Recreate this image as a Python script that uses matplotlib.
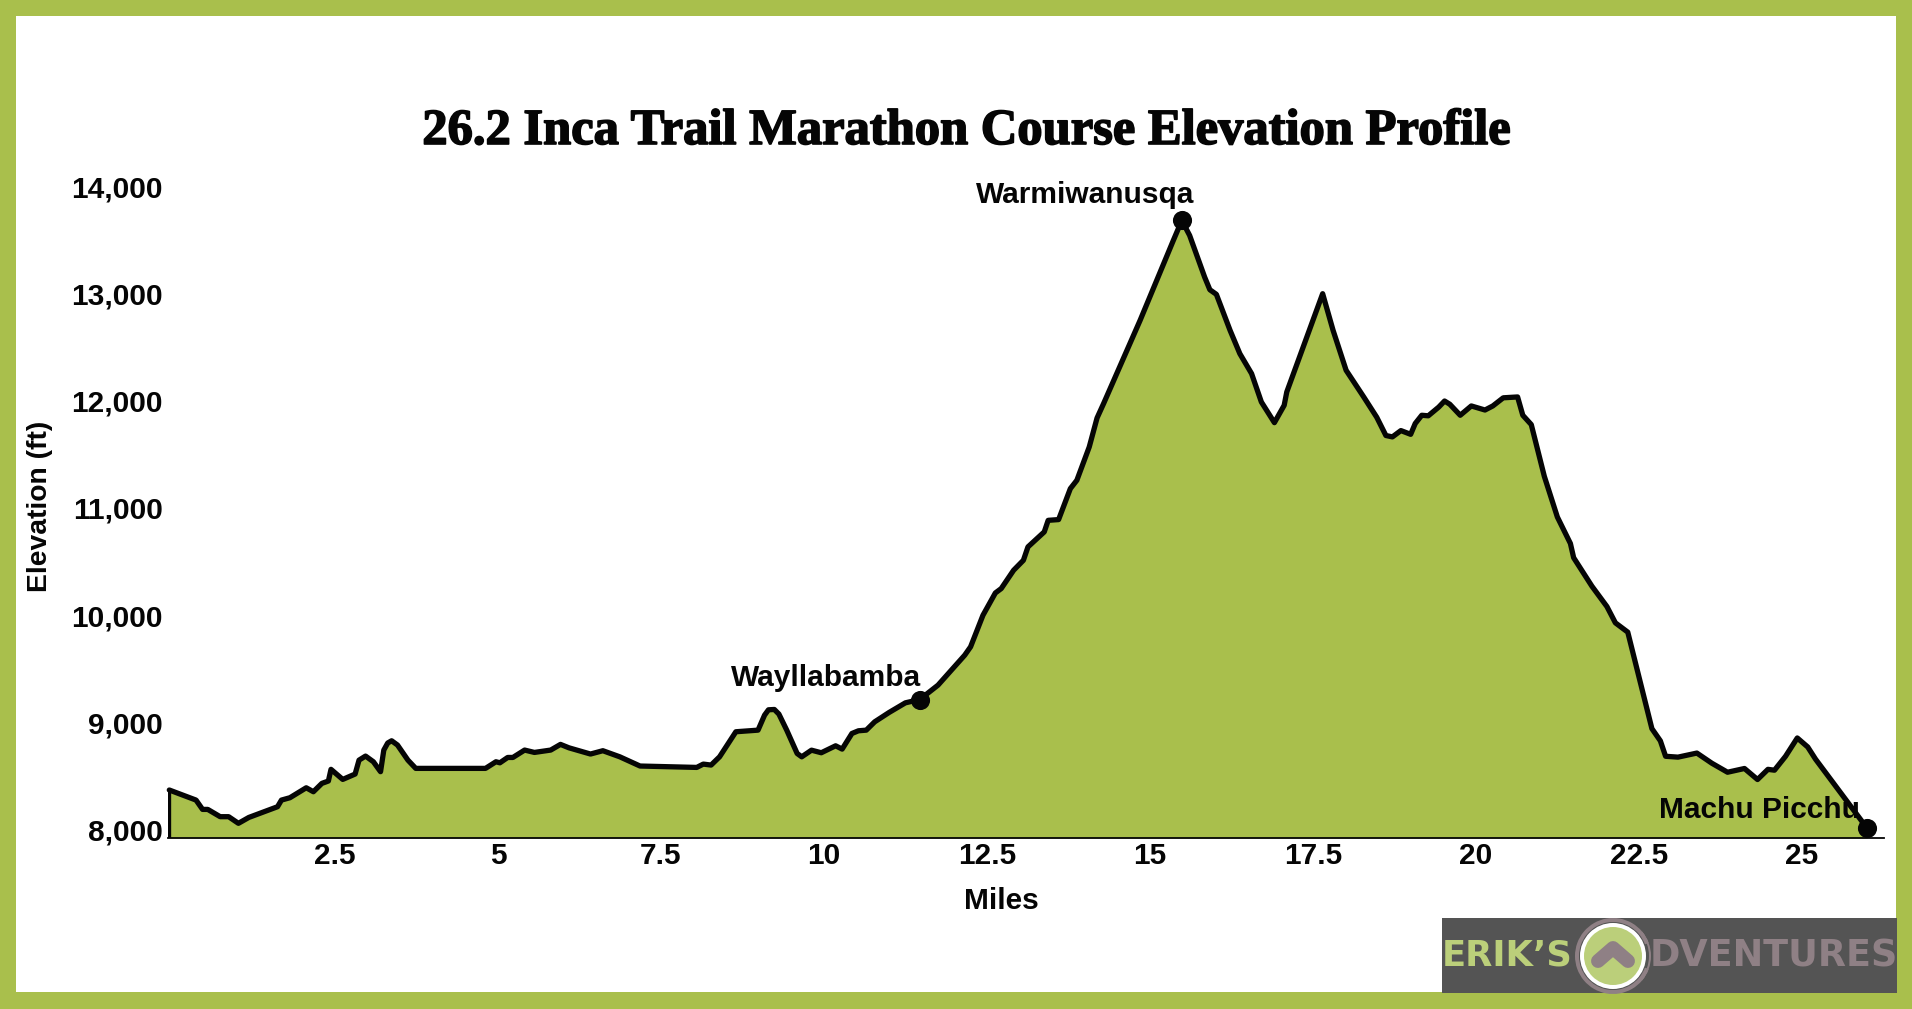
import matplotlib
matplotlib.use("Agg")
import matplotlib.pyplot as plt
import matplotlib.patheffects as pe
from matplotlib.patches import Rectangle, Circle, Wedge

# =========================
# DATA
# =========================

miles = [
    -0.04, 0.37, 0.47, 0.55, 0.74, 0.87, 1.02, 1.18, 1.62, 1.68, 1.81, 2.06, 2.17, 2.30, 2.40, 2.44,
    2.62, 2.81, 2.87, 2.97, 3.09, 3.20, 3.25, 3.31, 3.37, 3.46, 3.62, 3.74, 4.81, 4.97, 5.03, 5.15, 5.23,
    5.41, 5.56, 5.81, 5.96, 6.09, 6.42, 6.61, 6.87, 7.18, 8.05, 8.15, 8.27, 8.40, 8.65, 8.99, 9.09,
    9.15, 9.24, 9.31, 9.43, 9.59, 9.66, 9.81, 9.96, 10.18, 10.28, 10.43, 10.53, 10.65, 10.78, 11.00, 11.25,
    11.47, 11.75, 12.16, 12.25, 12.44, 12.63, 12.72, 12.91, 13.06, 13.13, 13.38, 13.44, 13.60, 13.78,
    13.88, 14.07, 14.19, 14.29, 14.85, 15.36, 15.49, 15.61, 15.84, 15.92, 16.02, 16.23, 16.38, 16.56,
    16.71, 16.91, 17.06, 17.10, 17.65, 17.81, 18.01, 18.28, 18.48, 18.62, 18.72, 18.85, 19.00, 19.07,
    19.17, 19.27, 19.43, 19.52, 19.60, 19.76, 19.93, 20.14, 20.26, 20.42, 20.64, 20.72, 20.85, 21.05,
    21.25, 21.45, 21.50, 21.78, 22.01, 22.14, 22.33, 22.70, 22.83, 22.91, 23.10, 23.39, 23.62, 23.86,
    24.12, 24.32, 24.48, 24.58, 24.75, 24.93, 25.09, 25.21, 26.00,
]

elevation = [
    8366, 8272, 8185, 8185, 8117, 8117, 8055, 8110, 8210, 8272, 8294, 8387, 8350, 8428, 8450, 8559,
    8465, 8515, 8645, 8683, 8630, 8537, 8739, 8805, 8826, 8786, 8645, 8568, 8568, 8630, 8620, 8670, 8670,
    8739, 8717, 8739, 8792, 8760, 8702, 8733, 8676, 8590, 8577, 8608, 8599, 8676, 8910, 8925, 9065,
    9115, 9118, 9075, 8925, 8707, 8676, 8738, 8714, 8779, 8748, 8894, 8919, 8925, 9003, 9090, 9180,
    9211, 9345, 9625, 9703, 9998, 10206, 10247, 10418, 10511, 10636, 10776, 10884, 10891, 11180,
    11258, 11569, 11840, 11974, 12751, 13498, 13684, 13544, 13155, 13037, 12994, 12658, 12440, 12254,
    11989, 11796, 11958, 12083, 13000, 12658, 12285, 12036, 11846, 11676, 11663, 11722, 11687, 11788,
    11865, 11860, 11941, 11998, 11968, 11865, 11952, 11914, 11952, 12028, 12036, 11865, 11778, 11295,
    10915, 10668, 10535, 10269, 10079, 9927, 9840, 8939, 8825, 8681, 8673, 8711, 8616, 8532,
    8567, 8464, 8559, 8551, 8681, 8852, 8768, 8654, 8010,
]

place_names = ["Wayllabamba", "Warmiwanusqa", "Machu Picchu"]
place_miles = [11.47, 15.49, 26.00]
place_elev = [9211, 13684, 8010]

x_ticks = [2.5, 5, 7.5, 10, 12.5, 15, 17.5, 20, 22.5, 25]
x_tick_labels = ["2.5", "5", "7.5", "10", "12.5", "15", "17.5", "20", "22.5", "25"]
y_ticks = [8000, 9000, 10000, 11000, 12000, 13000, 14000]
y_tick_labels = ["8,000", "9,000", "10,000", "11,000", "12,000", "13,000", "14,000"]

# =========================
# STYLE
# =========================

W, H = 1912, 1009
GREEN = "#A9BF4C"
DARK = "#050505"
LOGO_BG = "#545454"
LOGO_GREY = "#8F8085"
LOGO_GREEN = "#BBCF7A"

plt.rcParams.update({
    "font.family": ["Liberation Sans", "DejaVu Sans"],
    "font.weight": "bold",
    "font.size": 21.5,
})

fig = plt.figure(figsize=(W / 100, H / 100), dpi=100, facecolor="white")

# =========================
# FRAME (pixel coords)
# =========================

bg = fig.add_axes([0, 0, 1, 1], zorder=0)
bg.set_xlim(0, W)
bg.set_ylim(H, 0)
bg.axis("off")

bg.add_patch(Rectangle((0, 0), W, 16, color=GREEN, lw=0))
bg.add_patch(Rectangle((0, 992), W, 17, color=GREEN, lw=0))
bg.add_patch(Rectangle((0, 0), 16, H, color=GREEN, lw=0))
bg.add_patch(Rectangle((1896, 0), 16, H, color=GREEN, lw=0))

# =========================
# ELEVATION PROFILE
# =========================

left, right, bottom, top = 168, 1884, 838, 186.6
ax = fig.add_axes(
    [left / W, 1 - bottom / H, (right - left) / W, (bottom - top) / H],
    zorder=1
)
ax.patch.set_alpha(0)

y_floor = 7918
ax.set_xlim(-0.06, 26.26)
ax.set_ylim(y_floor, 14000)

ax.fill_between(miles, elevation, y_floor, color=GREEN, lw=0, zorder=1)
ax.plot(
    miles, elevation, color=DARK, lw=3.8,
    solid_joinstyle="round", solid_capstyle="round", zorder=2, clip_on=False
)
ax.plot(
    [miles[0], miles[0]], [y_floor, elevation[0]],
    color=DARK, lw=2.4, zorder=2
)
ax.scatter(place_miles, place_elev, s=190, color=DARK, lw=0, zorder=3, clip_on=False)

offsets = [(1, 22), (13, 25), (-7, 18)]
for name, mx, el, off in zip(place_names, place_miles, place_elev, offsets):
    ax.annotate(
        name, (mx, el),
        xytext=(off[0] * 0.72, off[1] * 0.72), textcoords="offset points",
        ha="right", va="center", color=DARK, zorder=4
    )

for side in ["top", "left", "right"]:
    ax.spines[side].set_visible(False)
ax.spines["bottom"].set_linewidth(1.3)
ax.spines["bottom"].set_color(DARK)
ax.spines["bottom"].set_zorder(5)

ax.set_xticks(x_ticks, x_tick_labels)
ax.set_yticks(y_ticks, y_tick_labels)
ax.tick_params(axis="both", length=0, colors=DARK)
ax.tick_params(axis="x", pad=3)
ax.tick_params(axis="y", pad=3.6)

# =========================
# TITLE, AXIS LABELS
# =========================

fig.text(
    966 / W, 1 - 132 / H, "26.2 Inca Trail Marathon Course Elevation Profile",
    family=["Liberation Serif", "DejaVu Serif"], weight="bold", fontsize=36.4,
    ha="center", va="center", color=DARK,
    path_effects=[pe.withStroke(linewidth=1.2, foreground=DARK)]
)
fig.text(1001 / W, 1 - 901 / H, "Miles", ha="center", va="center", color=DARK)
fig.text(
    40 / W, 1 - 506 / H, "Elevation (ft)", fontsize=20.3,
    rotation=90, ha="center", va="center", color=DARK
)

# =========================
# LOGO
# =========================

logo = fig.add_axes([0, 0, 1, 1], zorder=2)
logo.set_xlim(0, W)
logo.set_ylim(H, 0)
logo.axis("off")

logo.add_patch(Rectangle((1442, 918), 455, 75, color=LOGO_BG, lw=0))
logo.text(
    1442, 956, "ERIK’S", family="DejaVu Sans", weight="bold", fontsize=25.5,
    color=LOGO_GREEN, ha="left", va="center"
)
logo.text(
    1650, 956, "DVENTURES", family="DejaVu Sans", weight="bold", fontsize=26.3,
    color=LOGO_GREY, ha="left", va="center"
)
logo.add_patch(Wedge((1613, 956), 38, 20, 340, width=4, color=LOGO_GREY, lw=0))
logo.add_patch(Wedge((1613, 956), 38, -40, 40, width=2, color=LOGO_GREY, lw=0))
logo.add_patch(Circle((1613, 956), 33, color="white", lw=0))
logo.add_patch(Circle((1613, 956), 29, color=LOGO_GREEN, lw=0))
logo.plot(
    [1598, 1613, 1628], [961, 948, 961], color=LOGO_GREY, lw=10,
    solid_capstyle="round", solid_joinstyle="round"
)

fig.savefig("out.png", dpi=100)
